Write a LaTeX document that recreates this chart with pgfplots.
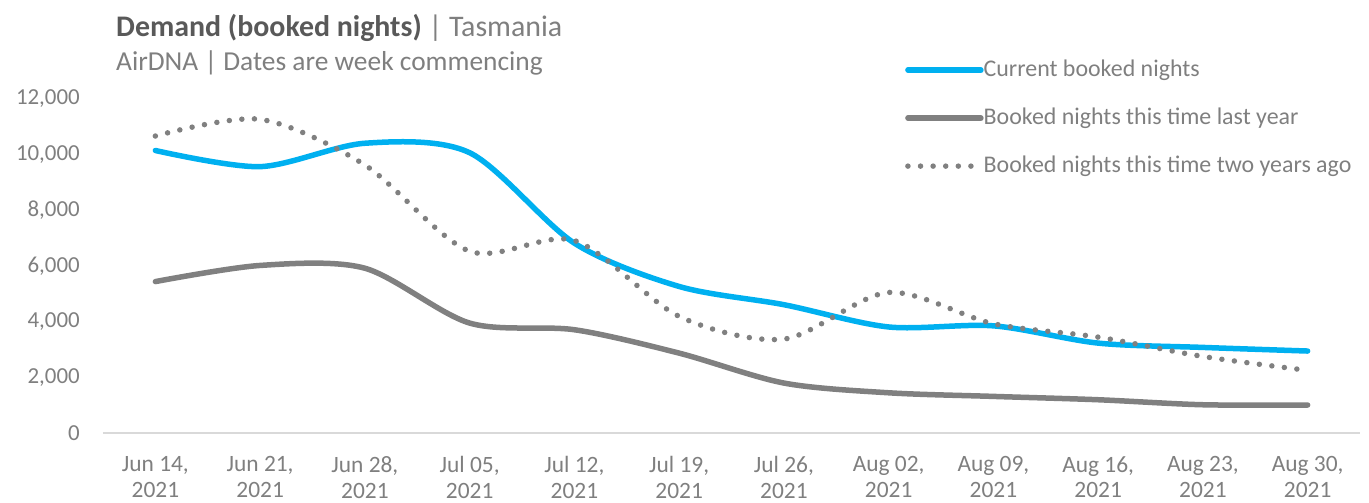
\documentclass[border=0pt]{standalone}
\usepackage{fontspec}
\setmainfont{Carlito}
\usepackage{pgfplots}
\usepackage{pgfplotstable}
\pgfplotsset{compat=1.18}
\definecolor{cblue}{HTML}{00B0F0}
\definecolor{cgray}{HTML}{808080}
\definecolor{tgray}{HTML}{7F7F7F}
\definecolor{dgray}{HTML}{595959}
\definecolor{axgray}{HTML}{D9D9D9}

\pgfplotstableread{
x cur ly tya
0 10150 5440 10670
1 9570 6020 11270
2 10410 5920 9630
3 10070 3950 6530
4 6820 3710 6915
5 5265 2870 4190
6 4610 1795 3375
7 3810 1445 5050
8 3850 1315 3925
9 3230 1195 3445
10 3075 1015 2750
11 2945 1005 2250
}\datatable

\begin{document}
\begin{tikzpicture}
\begin{axis}[
  name=main,
  scale only axis, width=1257bp, height=334bp,
  xmin=-0.5, xmax=11.5, ymin=0, ymax=12000,
  axis x line*=bottom, axis y line*=left,
  x axis line style={draw=axgray, line width=1.2bp, -},
  y axis line style={draw=none},
  major tick length=0pt,
  xtick={0,...,11},
  xticklabels={{Jun 14,\\2021},{Jun 21,\\2021},{Jun 28,\\2021},{Jul 05,\\2021},{Jul 12,\\2021},{Jul 19,\\2021},{Jul 26,\\2021},{Aug 02,\\2021},{Aug 09,\\2021},{Aug 16,\\2021},{Aug 23,\\2021},{Aug 30,\\2021}},
  xticklabel style={align=center, font=\fontsize{23.5}{26}\selectfont, text=tgray, anchor=north, inner sep=0pt, yshift=-23bp},
  ytick={0,2000,...,12000},
  yticklabel style={font=\fontsize{23}{26}\selectfont, text=tgray, anchor=east, inner sep=0pt, xshift=-23bp},
  scaled y ticks=false,
  /pgf/number format/.cd, fixed, 1000 sep={,}, assume math mode=true, /pgfplots/.cd,
  legend image code/.code={\draw[#1] (0bp,0bp) -- (73bp,0bp);},
  legend cell align=left,
  legend style={draw=none, fill=none, at={(0.638,1.12)}, anchor=north west, inner sep=0pt,
    row sep=26bp, font=\fontsize{24}{28}\selectfont, text=tgray,
    /tikz/every even column/.append style={column sep=5bp},
    nodes={inner sep=0pt, text height=17bp, text depth=5bp}},
]
\addplot[cblue, line width=5.5bp, smooth, tension=0.5, line cap=round] table[x=x, y=cur]{\datatable};
\addplot[cgray, line width=5.5bp, smooth, tension=0.5, line cap=round] table[x=x, y=ly]{\datatable};
\addplot[cgray, line width=5.5bp, smooth, tension=0.5, line cap=round, dash pattern=on 0bp off 12.6bp] table[x=x, y=tya]{\datatable};
\legend{Current booked nights, Booked nights this time last year, Booked nights this time two years ago}
\end{axis}
\node[anchor=base west, inner sep=0pt, font=\fontsize{30}{34}\selectfont] at ([xshift=13bp, yshift=62.5bp]main.north west) {\textcolor{dgray}{\textbf{Demand (booked nights)}}\textcolor{tgray}{\ | Tasmania}};
\node[anchor=base west, inner sep=0pt, font=\fontsize{27.5}{31}\selectfont, text=tgray] at ([xshift=13bp, yshift=28bp]main.north west) {AirDNA | Dates are week commencing};
\pgfresetboundingbox
\path ([xshift=-103bp, yshift=-69bp]main.south west) rectangle ([xshift=9bp, yshift=99bp]main.north east);
\end{tikzpicture}
\end{document}
